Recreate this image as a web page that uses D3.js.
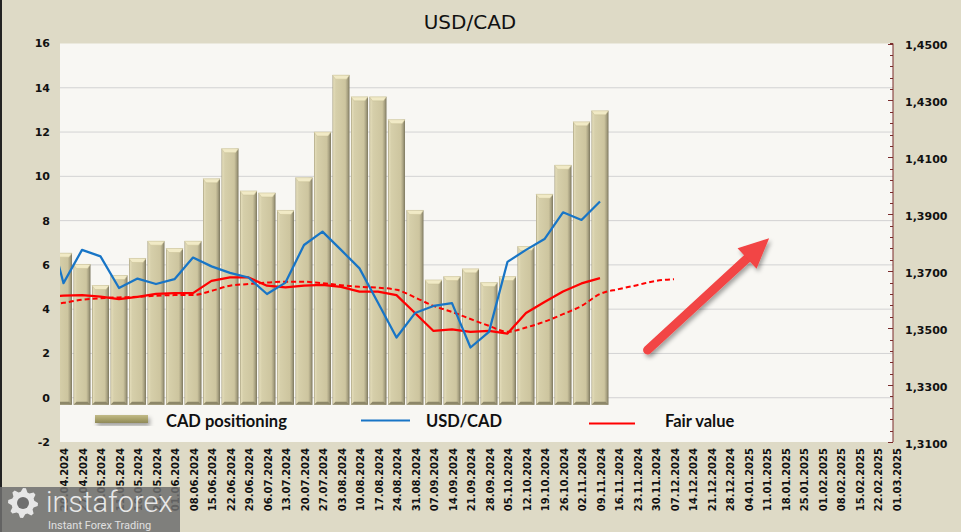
<!DOCTYPE html>
<html><head><meta charset="utf-8">
<script src="https://cdn.jsdelivr.net/npm/d3@7"></script>
<style>html,body{margin:0;padding:0;background:#dedac6;}svg{display:block}</style>
</head><body>
<svg id="chart" width="961" height="532"></svg>
<script>
// ---------- DATA ----------
const weekLabels = ["20.04.2024","27.04.2024","04.05.2024","11.05.2024","18.05.2024","25.05.2024","01.06.2024","08.06.2024","15.06.2024","22.06.2024","29.06.2024","06.07.2024","13.07.2024","20.07.2024","27.07.2024","03.08.2024","10.08.2024","17.08.2024","24.08.2024","31.08.2024","07.09.2024","14.09.2024","21.09.2024","28.09.2024","05.10.2024","12.10.2024","19.10.2024","26.10.2024","02.11.2024","09.11.2024","16.11.2024","23.11.2024","30.11.2024","07.12.2024","14.12.2024","21.12.2024","28.12.2024","04.01.2025","11.01.2025","18.01.2025","25.01.2025","01.02.2025","08.02.2025","15.02.2025","22.02.2025","01.03.2025"];
const barDates = weekLabels.slice(0, 30);
const cadPositioning = [6.53,6.02,5.07,5.52,6.29,7.07,6.74,7.07,9.89,11.25,9.34,9.25,8.46,9.94,12.0,14.57,13.59,13.59,12.56,8.46,5.32,5.47,5.82,5.2,5.47,6.83,9.19,10.5,12.46,12.96];
const lineDates = ["13.04.2024"].concat(barDates);
const usdcad = [1.3906,1.3658,1.3775,1.3752,1.3641,1.3674,1.3655,1.3672,1.3748,1.3717,1.3694,1.3678,1.3620,1.3660,1.3792,1.3839,1.3775,1.3710,1.3589,1.3467,1.3553,1.3578,1.3588,1.3432,1.3487,1.3733,1.3775,1.3813,1.3907,1.3880,1.3945];
const fairValue = [1.3610,1.3614,1.3616,1.3611,1.3602,1.3610,1.3620,1.3623,1.3623,1.3666,1.3678,1.3678,1.3649,1.3643,1.3649,1.3652,1.3645,1.3628,1.3628,1.3616,1.3553,1.3490,1.3496,1.3487,1.3490,1.3481,1.3553,1.3592,1.3629,1.3657,1.3676];
const trendDates = ["13.04.2024"].concat(weekLabels.slice(0, 34));
const fairTrend = [1.3582,1.3589,1.3600,1.3605,1.3608,1.3610,1.3614,1.3616,1.3616,1.3631,1.3649,1.3655,1.3660,1.3663,1.3663,1.3658,1.3651,1.3645,1.3642,1.3635,1.3608,1.3578,1.3557,1.3532,1.3508,1.3487,1.3502,1.3523,1.3549,1.3578,1.3620,1.3637,1.3651,1.3666,1.3672];
const leftTicks = [-2,0,2,4,6,8,10,12,14,16];
const rightTicks = [1.31,1.33,1.35,1.37,1.39,1.41,1.43,1.45];
const arrowFrom = {date: "27.11.2024", value: 1.3423};
const arrowTo = {date: "12.01.2025", value: 1.3816};
const title = "USD/CAD";
const legendNames = ["CAD positioning", "USD/CAD", "Fair value"];

// ---------- SETUP ----------
const parse = d3.timeParse("%d.%m.%Y");
const svg = d3.select("#chart");
const plot = {left: 60, right: 893, top: 43.5, bottom: 442};
const x = d3.scaleTime()
  .domain([parse(weekLabels[0]), parse(weekLabels[weekLabels.length - 1])])
  .range([63.5, 896]);
const yL = d3.scaleLinear().domain([-2, 16]).range([plot.bottom, plot.top]);
const yR = d3.scaleLinear().domain([1.31, 1.45]).range([plot.bottom, plot.top]);

const defs = svg.append("defs");
defs.append("clipPath").attr("id", "clip").append("rect")
  .attr("x", plot.left).attr("y", plot.top)
  .attr("width", plot.right - plot.left).attr("height", plot.bottom - plot.top);
const bg = defs.append("linearGradient").attr("id", "barGrad").attr("x1", 0).attr("x2", 1).attr("y1", 0).attr("y2", 0);
[[0,"#a39c7c"],[0.07,"#e2dbb8"],[0.2,"#d6cfaa"],[0.75,"#cdc59f"],[0.88,"#aaa383"],[1,"#7d785f"]]
  .forEach(([o,c]) => bg.append("stop").attr("offset", o).attr("stop-color", c));
const lg = defs.append("linearGradient").attr("id", "legGrad").attr("x1", 0).attr("x2", 0).attr("y1", 0).attr("y2", 1);
[[0,"#c2bb88"],[0.5,"#aaa36c"],[1,"#8f8958"]].forEach(([o,c]) => lg.append("stop").attr("offset", o).attr("stop-color", c));
const sh = defs.append("filter").attr("id", "shadow").attr("x", "-20%").attr("y", "-20%").attr("width", "150%").attr("height", "150%");
sh.append("feDropShadow").attr("dx", 2).attr("dy", 3).attr("stdDeviation", 2).attr("flood-color", "#000").attr("flood-opacity", 0.35);

// background of plot
svg.append("rect").attr("x", plot.left).attr("y", plot.top)
  .attr("width", plot.right - plot.left).attr("height", plot.bottom - plot.top)
  .attr("fill", "#f8f7f3");

// gridlines
svg.append("g").selectAll("line").data(leftTicks.filter(v => v > -2 && v < 16)).join("line")
  .attr("x1", plot.left).attr("x2", plot.right)
  .attr("y1", d => yL(d)).attr("y2", d => yL(d))
  .attr("stroke", "#d3d3d3").attr("stroke-width", 1);

// bars
const barW = 17;
const gb = svg.append("g").attr("clip-path", "url(#clip)");
const barData = barDates.map((d, i) => ({date: parse(d), v: cadPositioning[i]}));
const base = yL(0) + 7;
gb.selectAll("rect.bar").data(barData).join("rect").attr("class", "bar")
  .attr("x", d => x(d.date) - barW / 2).attr("width", barW)
  .attr("y", d => yL(d.v)).attr("height", d => base - yL(d.v))
  .attr("fill", "url(#barGrad)");
gb.selectAll("path.cap").data(barData).join("path").attr("class", "cap")
  .attr("d", d => {
    const x0 = x(d.date) - barW / 2, x1 = x0 + barW, y0 = yL(d.v);
    return `M${x0},${y0}L${x1},${y0}L${x1 - 3},${y0 + 4}L${x0 + 3},${y0 + 4}Z`;
  })
  .attr("fill", "#f1eac6").attr("stroke", "#c9c196").attr("stroke-width", 0.5);
gb.selectAll("path.foot").data(barData).join("path").attr("class", "foot")
  .attr("d", d => {
    const x0 = x(d.date) - barW / 2, x1 = x0 + barW;
    return `M${x0},${base}L${x1},${base}L${x1 - 3},${base - 3}L${x0 + 3},${base - 3}Z`;
  })
  .attr("fill", "#8d8769");

// lines
const gl = svg.append("g").attr("clip-path", "url(#clip)");
const mk = (dates, vals) => dates.map((d, i) => ({date: parse(d), v: vals[i]}));
gl.append("path").datum(mk(trendDates, fairTrend))
  .attr("d", d3.line().x(d => x(d.date)).y(d => yR(d.v)).curve(d3.curveMonotoneX))
  .attr("fill", "none").attr("stroke", "#ff0000").attr("stroke-width", 2).attr("stroke-dasharray", "5,3");
gl.append("path").datum(mk(lineDates, fairValue))
  .attr("d", d3.line().x(d => x(d.date)).y(d => yR(d.v)))
  .attr("fill", "none").attr("stroke", "#ff0000").attr("stroke-width", 2.25).attr("stroke-linejoin", "round");
gl.append("path").datum(mk(lineDates, usdcad))
  .attr("d", d3.line().x(d => x(d.date)).y(d => yR(d.v)))
  .attr("fill", "none").attr("stroke", "#1875c6").attr("stroke-width", 2.25).attr("stroke-linejoin", "round");

// left axis labels
svg.append("g").selectAll("text").data(leftTicks).join("text")
  .attr("x", 50).attr("y", d => yL(d)).attr("dy", "0.36em")
  .attr("text-anchor", "end")
  .style("font", "bold 11px 'DejaVu Sans'").attr("fill", "#111")
  .text(d => d);

// right axis
const ra = svg.append("g");
ra.append("line").attr("x1", plot.right).attr("x2", plot.right).attr("y1", plot.top).attr("y2", plot.bottom)
  .attr("stroke", "#7a2b2b").attr("stroke-width", 1);
const minor = d3.range(1.31, 1.4501, 0.004);
ra.selectAll("line.mt").data(minor).join("line").attr("class", "mt")
  .attr("x1", plot.right - 3).attr("x2", plot.right)
  .attr("y1", d => Math.round(yR(d)) + 0.5).attr("y2", d => Math.round(yR(d)) + 0.5)
  .attr("stroke", "#7a2b2b");
ra.selectAll("line.Mt").data(rightTicks).join("line").attr("class", "Mt")
  .attr("x1", plot.right - 5).attr("x2", plot.right)
  .attr("y1", d => Math.round(yR(d)) + 0.5).attr("y2", d => Math.round(yR(d)) + 0.5)
  .attr("stroke", "#7a2b2b");
ra.selectAll("text").data(rightTicks).join("text")
  .attr("x", 905).attr("y", d => yR(d) + 2).attr("dy", "0.36em")
  .style("font", "bold 11px 'DejaVu Sans'").attr("fill", "#111")
  .text(d => d3.format(".4f")(d).replace(".", ","));

// x labels
svg.append("g").selectAll("text").data(weekLabels).join("text")
  .attr("transform", d => `translate(${x(parse(d)) + 1},448) rotate(-90)`)
  .attr("text-anchor", "end").attr("dy", "0.36em")
  .style("font", "bold 10px 'DejaVu Sans'").attr("fill", "#111")
  .text(d => d);

// legend
const leg = svg.append("g");
leg.append("rect").attr("x", 95).attr("y", 415).attr("width", 53).attr("height", 8)
  .attr("fill", "url(#legGrad)").attr("filter", "url(#shadow)");
leg.append("line").attr("x1", 361).attr("x2", 410).attr("y1", 420.5).attr("y2", 420.5)
  .attr("stroke", "#1875c6").attr("stroke-width", 2);
leg.append("line").attr("x1", 589).attr("x2", 635).attr("y1", 423.5).attr("y2", 423.5)
  .attr("stroke", "#ff0000").attr("stroke-width", 2);
leg.selectAll("text").data(legendNames).join("text")
  .attr("x", (d, i) => [166, 426, 665][i]).attr("y", 427)
  .style("font", "bold 16.5px Lato").attr("fill", "#111")
  .text(d => d);

// arrow annotation
const ax0 = x(parse(arrowFrom.date)), ay0 = yR(arrowFrom.value);
const ax1 = x(parse(arrowTo.date)), ay1 = yR(arrowTo.value);
const dx = ax1 - ax0, dy = ay1 - ay0, len = Math.hypot(dx, dy);
const ux = dx / len, uy = dy / len, px = -uy, py = ux;
const headL = 30, headW = 14;
const bx = ax1 - ux * headL, by = ay1 - uy * headL;
const ag = svg.append("g").attr("filter", "url(#shadow)");
ag.append("line").attr("x1", ax0).attr("y1", ay0).attr("x2", bx + ux * 4).attr("y2", by + uy * 4)
  .attr("stroke", "#f24444").attr("stroke-width", 9).attr("stroke-linecap", "round");
ag.append("path")
  .attr("d", `M${ax1},${ay1}L${bx + px * headW},${by + py * headW}L${bx - px * headW},${by - py * headW}Z`)
  .attr("fill", "#f24444");

// title
svg.append("text").attr("x", 470).attr("y", 29).attr("text-anchor", "middle")
  .style("font", "20px 'DejaVu Sans'").attr("fill", "#111").text(title);

// frame
svg.append("rect").attr("x", 0).attr("y", 0).attr("width", 2).attr("height", 532).attr("fill", "#222");

// watermark logo
const logo = svg.append("g").attr("transform", "translate(0,487)");
logo.append("rect").attr("width", 180).attr("height", 45).attr("fill", "#6e6e6e").attr("opacity", 0.85);
const teeth = 8, rO = 15, rI = 11.5;
const gearPts = d3.range(teeth * 4).map(k => {
  const a = (k / (teeth * 4)) * 2 * Math.PI;
  const r = (Math.floor(k / 2) % 2 === 0) ? rO : rI;
  return [23 + r * Math.cos(a), 16 + r * Math.sin(a)];
});
logo.append("path").attr("d", "M" + gearPts.join("L") + "Z").attr("fill", "#e6e6e6");
logo.append("circle").attr("cx", 23).attr("cy", 16).attr("r", 6).attr("fill", "#6e6e6e");
logo.append("text").attr("x", 46).attr("y", 25).style("font", "300 29px Roboto").attr("fill", "#e8e8e8").text("instaforex");
logo.append("text").attr("x", 48).attr("y", 42).style("font", "11px Roboto").attr("fill", "#e0e0e0").text("Instant Forex Trading");
</script>
</body></html>
